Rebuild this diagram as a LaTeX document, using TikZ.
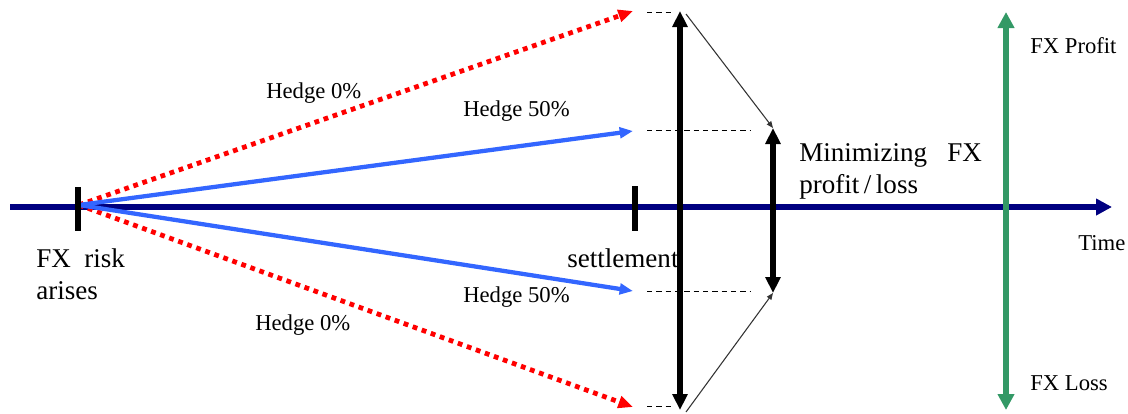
\documentclass[tikz,border=0pt]{standalone}
\usepackage{fontspec}
\setmainfont{Liberation Serif}
\usetikzlibrary{arrows.meta}
\definecolor{navy}{RGB}{0,0,128}
\definecolor{hblue}{RGB}{51,102,255}
\definecolor{hred}{RGB}{255,0,0}
\definecolor{fxgreen}{RGB}{51,153,102}
\begin{document}
\begin{tikzpicture}[x=0.75pt,y=-0.75pt,
  axis/.style={navy,line width=5pt,-{Triangle[length=12pt,width=12pt]}},
  tick/.style={black,line width=4.8pt},
  redline/.style={hred,line width=3.6pt,dash pattern=on 3.6pt off 3.6pt,-{Triangle[length=11pt,width=9pt]}},
  blueline/.style={hblue,line width=3.2pt,-{Triangle[length=10pt,width=8pt]}},
  guide/.style={black,line width=0.6pt,dash pattern=on 4pt off 3pt},
  bigdbl/.style={black,line width=3.8pt,{Triangle[length=12pt,width=11pt]}-{Triangle[length=12pt,width=11pt]}},
  thinarr/.style={black!80,line width=0.8pt,-{Triangle[length=5pt,width=4pt]}},
  greendbl/.style={fxgreen,line width=4.2pt,{Triangle[length=12pt,width=12pt]}-{Triangle[length=12pt,width=12pt]}},
  lbl/.style={inner sep=0pt,font=\fontsize{17}{20}\selectfont},
  biglbl/.style={inner sep=0pt,font=\fontsize{20.3}{24}\selectfont,align=left},
  smalllbl/.style={inner sep=0pt,font=\fontsize{17}{20}\selectfont}
]
\useasboundingbox (0,0) rectangle (1128,414);
% coordinates
\coordinate (axL) at (10,207);
\coordinate (axR) at (1112,207);
\coordinate (O) at (79,205);
\coordinate (t1a) at (78,187);
\coordinate (t1b) at (78,231);
\coordinate (t2a) at (635,186);
\coordinate (t2b) at (635,231);
\coordinate (rTop) at (633,11);
\coordinate (bTop) at (633,131);
\coordinate (bBot) at (633,291);
\coordinate (rBot) at (633,407);
\coordinate (gA1) at (647,12);   \coordinate (gA2) at (673,12);
\coordinate (gB1) at (647,130);  \coordinate (gB2) at (750,130);
\coordinate (gC1) at (647,291);  \coordinate (gC2) at (750,291);
\coordinate (gD1) at (647,406);  \coordinate (gD2) at (673,406);
\coordinate (bigT) at (680,11);
\coordinate (bigB) at (680,410);
\coordinate (smT) at (773,128);
\coordinate (smB) at (773,293);
\coordinate (thT) at (686,14);
\coordinate (thB) at (686,412);
\coordinate (grT) at (1006,12);
\coordinate (grB) at (1006,410);
% main axis
\draw[axis] (axL) -- (axR);
% hedge lines
\draw[redline] (O) -- (rTop);
\draw[redline] (O) -- (rBot);
\draw[blueline] (O) -- (bTop);
\draw[blueline] (O) -- (bBot);
% ticks
\draw[tick] (t1a) -- (t1b);
\draw[tick] (t2a) -- (t2b);
% guides
\draw[guide] (gA1) -- (gA2);
\draw[guide] (gB1) -- (gB2);
\draw[guide] (gC1) -- (gC2);
\draw[guide] (gD1) -- (gD2);
% range arrows
\draw[bigdbl] (bigB) -- (bigT);
\draw[bigdbl] (smB) -- (smT);
\draw[thinarr] (thT) -- (smT);
\draw[thinarr] (thB) -- (smB);
\draw[greendbl] (grB) -- (grT);
% labels
\node[lbl,anchor=west] (h0t) at (266,93) {Hedge 0\%};
\node[lbl,anchor=west] (h50t) at (463,111) {Hedge 50\%};
\node[lbl,anchor=west] (h50b) at (463,297) {Hedge 50\%};
\node[lbl,anchor=west] (h0b) at (255,325) {Hedge 0\%};
\node[biglbl,anchor=north west] (risk) at (36,248) {FX\ \ risk\\arises};
\node[biglbl,anchor=north west] (settle) at (567,248) {settlement};
\node[biglbl,anchor=north west] (mini) at (799,143) {Minimizing\ \ \ FX\\profit\,/\,loss};
\node[smalllbl,anchor=west] (time) at (1078,243) {Time};
\node[smalllbl,anchor=west] (prof) at (1030,46) {FX Profit};
\node[smalllbl,anchor=west] (loss) at (1030,383) {FX Loss};
\end{tikzpicture}
\end{document}
